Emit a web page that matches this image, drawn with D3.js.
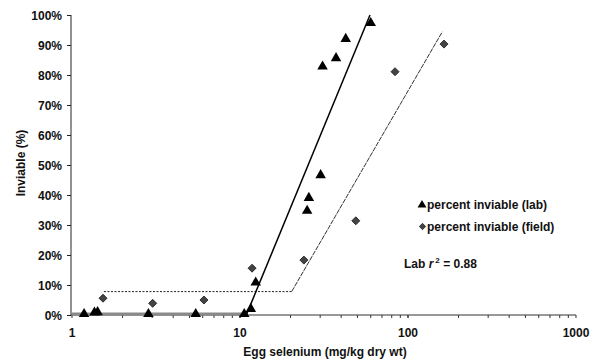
<!DOCTYPE html>
<html>
<head>
<meta charset="utf-8">
<script src="https://cdn.jsdelivr.net/npm/d3@7"></script>
<style>
  html, body { margin: 0; padding: 0; background: #fff; }
  svg text { font-family: "Liberation Sans", Arial, sans-serif; font-weight: bold; fill: #111; }
</style>
</head>
<body>
<svg id="chart" width="596" height="364"></svg>
<script>
// ---- data ----
const labX   = [1.18, 1.36, 1.42, 2.85, 5.45, 10.6, 11.6, 12.4, 25.1, 25.7, 30.2, 31.0, 37.3, 42.6, 60.0];
const labY   = [0,    0.5,  0.6,  0,    0,    0,    1.7,  10.5, 34.4, 38.7, 46.3, 82.5, 85.3, 91.7, 97.0];
const fieldX = [1.53, 3.02, 6.1, 11.8, 24.0, 48.9, 83.7, 163.8];
const fieldY = [5.6,  3.9,  5.0, 15.6, 18.3, 31.4, 81.1, 90.3];
// piecewise regression lines
const labFlatX   = [1, 10.9],   labFlatY   = [0.3, 0.3];
const labRiseX   = [10.9, 59.4], labRiseY  = [0, 100];
const fieldFlatX = [1.55, 20.3], fieldFlatY = [7.8, 7.8];
const fieldRiseX = [20.3, 160],  fieldRiseY = [7.8, 94.4];
const yTicks = [0,10,20,30,40,50,60,70,80,90,100];
const xTicks = [1, 10, 100, 1000];
const legendLabels = ["percent inviable (lab)", "percent inviable (field)"];

const svg = d3.select("#chart");
const x = d3.scaleLog().domain([1, 1000]).range([72, 576]);
const y = d3.scaleLinear().domain([0, 100]).range([315, 15]);

// ---- axes ----
const yAxis = d3.axisLeft(y).tickValues(yTicks).tickSize(4).tickPadding(5)
  .tickFormat(d => d + "%");
const gy = svg.append("g").attr("transform", "translate(71,0)").call(yAxis);
gy.select(".domain").attr("stroke", "#222").attr("d", "M0,15V315");
gy.selectAll(".tick line").attr("stroke", "#222");
gy.selectAll(".tick text").style("font-size", "12px").attr("dy", "0.35em");

// minor x ticks
const minor = [];
for (let d = 1; d < 1000; d *= 10) for (let k = 1; k <= 10; k++) minor.push(d * k);
const gx = svg.append("g").attr("transform", "translate(0,315)");
gx.append("line").attr("x1", 71).attr("x2", x(1000)).attr("stroke", "#333").attr("stroke-width", 1);
gx.selectAll("line.minor").data(minor).enter().append("line")
  .attr("class", "minor")
  .attr("x1", d => x(d)).attr("x2", d => x(d))
  .attr("y1", 0).attr("y2", 3).attr("stroke", "#333");
gx.selectAll("text").data(xTicks).enter().append("text")
  .attr("x", d => x(d)).attr("y", 22)
  .attr("text-anchor", "middle").style("font-size", "12px")
  .text(d => d);

// axis titles
svg.append("text").attr("x", 325).attr("y", 356).attr("text-anchor", "middle")
  .style("font-size", "12px").text("Egg selenium (mg/kg dry wt)");
svg.append("text").attr("transform", "translate(25,163) rotate(-90)")
  .attr("text-anchor", "middle").style("font-size", "12px").text("Inviable (%)");

// ---- fit lines ----
const line = d3.line().x(d => x(d[0])).y(d => y(d[1]));
const zip = (a, b) => a.map((v, i) => [v, b[i]]);
svg.append("path").attr("d", line(zip(labFlatX, labFlatY)))
  .attr("fill", "none").attr("stroke", "#8a8a8a").attr("stroke-width", 3);
svg.append("path").attr("d", line(zip(fieldFlatX, fieldFlatY)))
  .attr("fill", "none").attr("stroke", "#222").attr("stroke-width", 1)
  .attr("stroke-dasharray", "2,1.5");
svg.append("path").attr("d", line(zip(fieldRiseX, fieldRiseY)))
  .attr("fill", "none").attr("stroke", "#333").attr("stroke-width", 1)
  .attr("stroke-dasharray", "5,1");
svg.append("path").attr("d", line(zip(labRiseX, labRiseY)))
  .attr("fill", "none").attr("stroke", "#000").attr("stroke-width", 1.5);

// ---- points ----
const tri = d3.symbol().type(d3.symbolTriangle).size(48);
const dia = d3.symbol().type(d3.symbolSquare).size(32);
svg.append("g").selectAll("path").data(zip(fieldX, fieldY)).enter().append("path")
  .attr("d", dia)
  .attr("transform", d => `translate(${x(d[0])},${y(d[1])}) rotate(45)`)
  .attr("fill", "#444").attr("stroke", "#1a1a1a").attr("stroke-width", 0.8);
svg.append("g").selectAll("path").data(zip(labX, labY)).enter().append("path")
  .attr("d", tri)
  .attr("transform", d => `translate(${x(d[0])},${y(d[1]) - 1})`)
  .attr("fill", "#000");

// ---- legend ----
const lg = svg.append("g");
lg.append("path").attr("d", d3.symbol().type(d3.symbolTriangle).size(34))
  .attr("transform", "translate(422,205)").attr("fill", "#000");
lg.append("path").attr("d", d3.symbol().type(d3.symbolSquare).size(20))
  .attr("transform", "translate(422.5,226.5) rotate(45)")
  .attr("fill", "#444").attr("stroke", "#1a1a1a").attr("stroke-width", 0.7);
lg.selectAll("text").data(legendLabels).enter().append("text")
  .attr("x", 427).attr("y", (d, i) => 209 + i * 21.5)
  .style("font-size", "12px").text(d => d);

// ---- r² annotation ----
const r2 = svg.append("text").attr("x", 404).attr("y", 268).style("font-size", "12px");
r2.append("tspan").text("Lab ");
r2.append("tspan").style("font-style", "italic").text("r");
r2.append("tspan").attr("dy", -5).attr("dx", 2).style("font-size", "8px").text("2");
r2.append("tspan").attr("dy", 5).text(" = 0.88");
</script>
</body>
</html>
